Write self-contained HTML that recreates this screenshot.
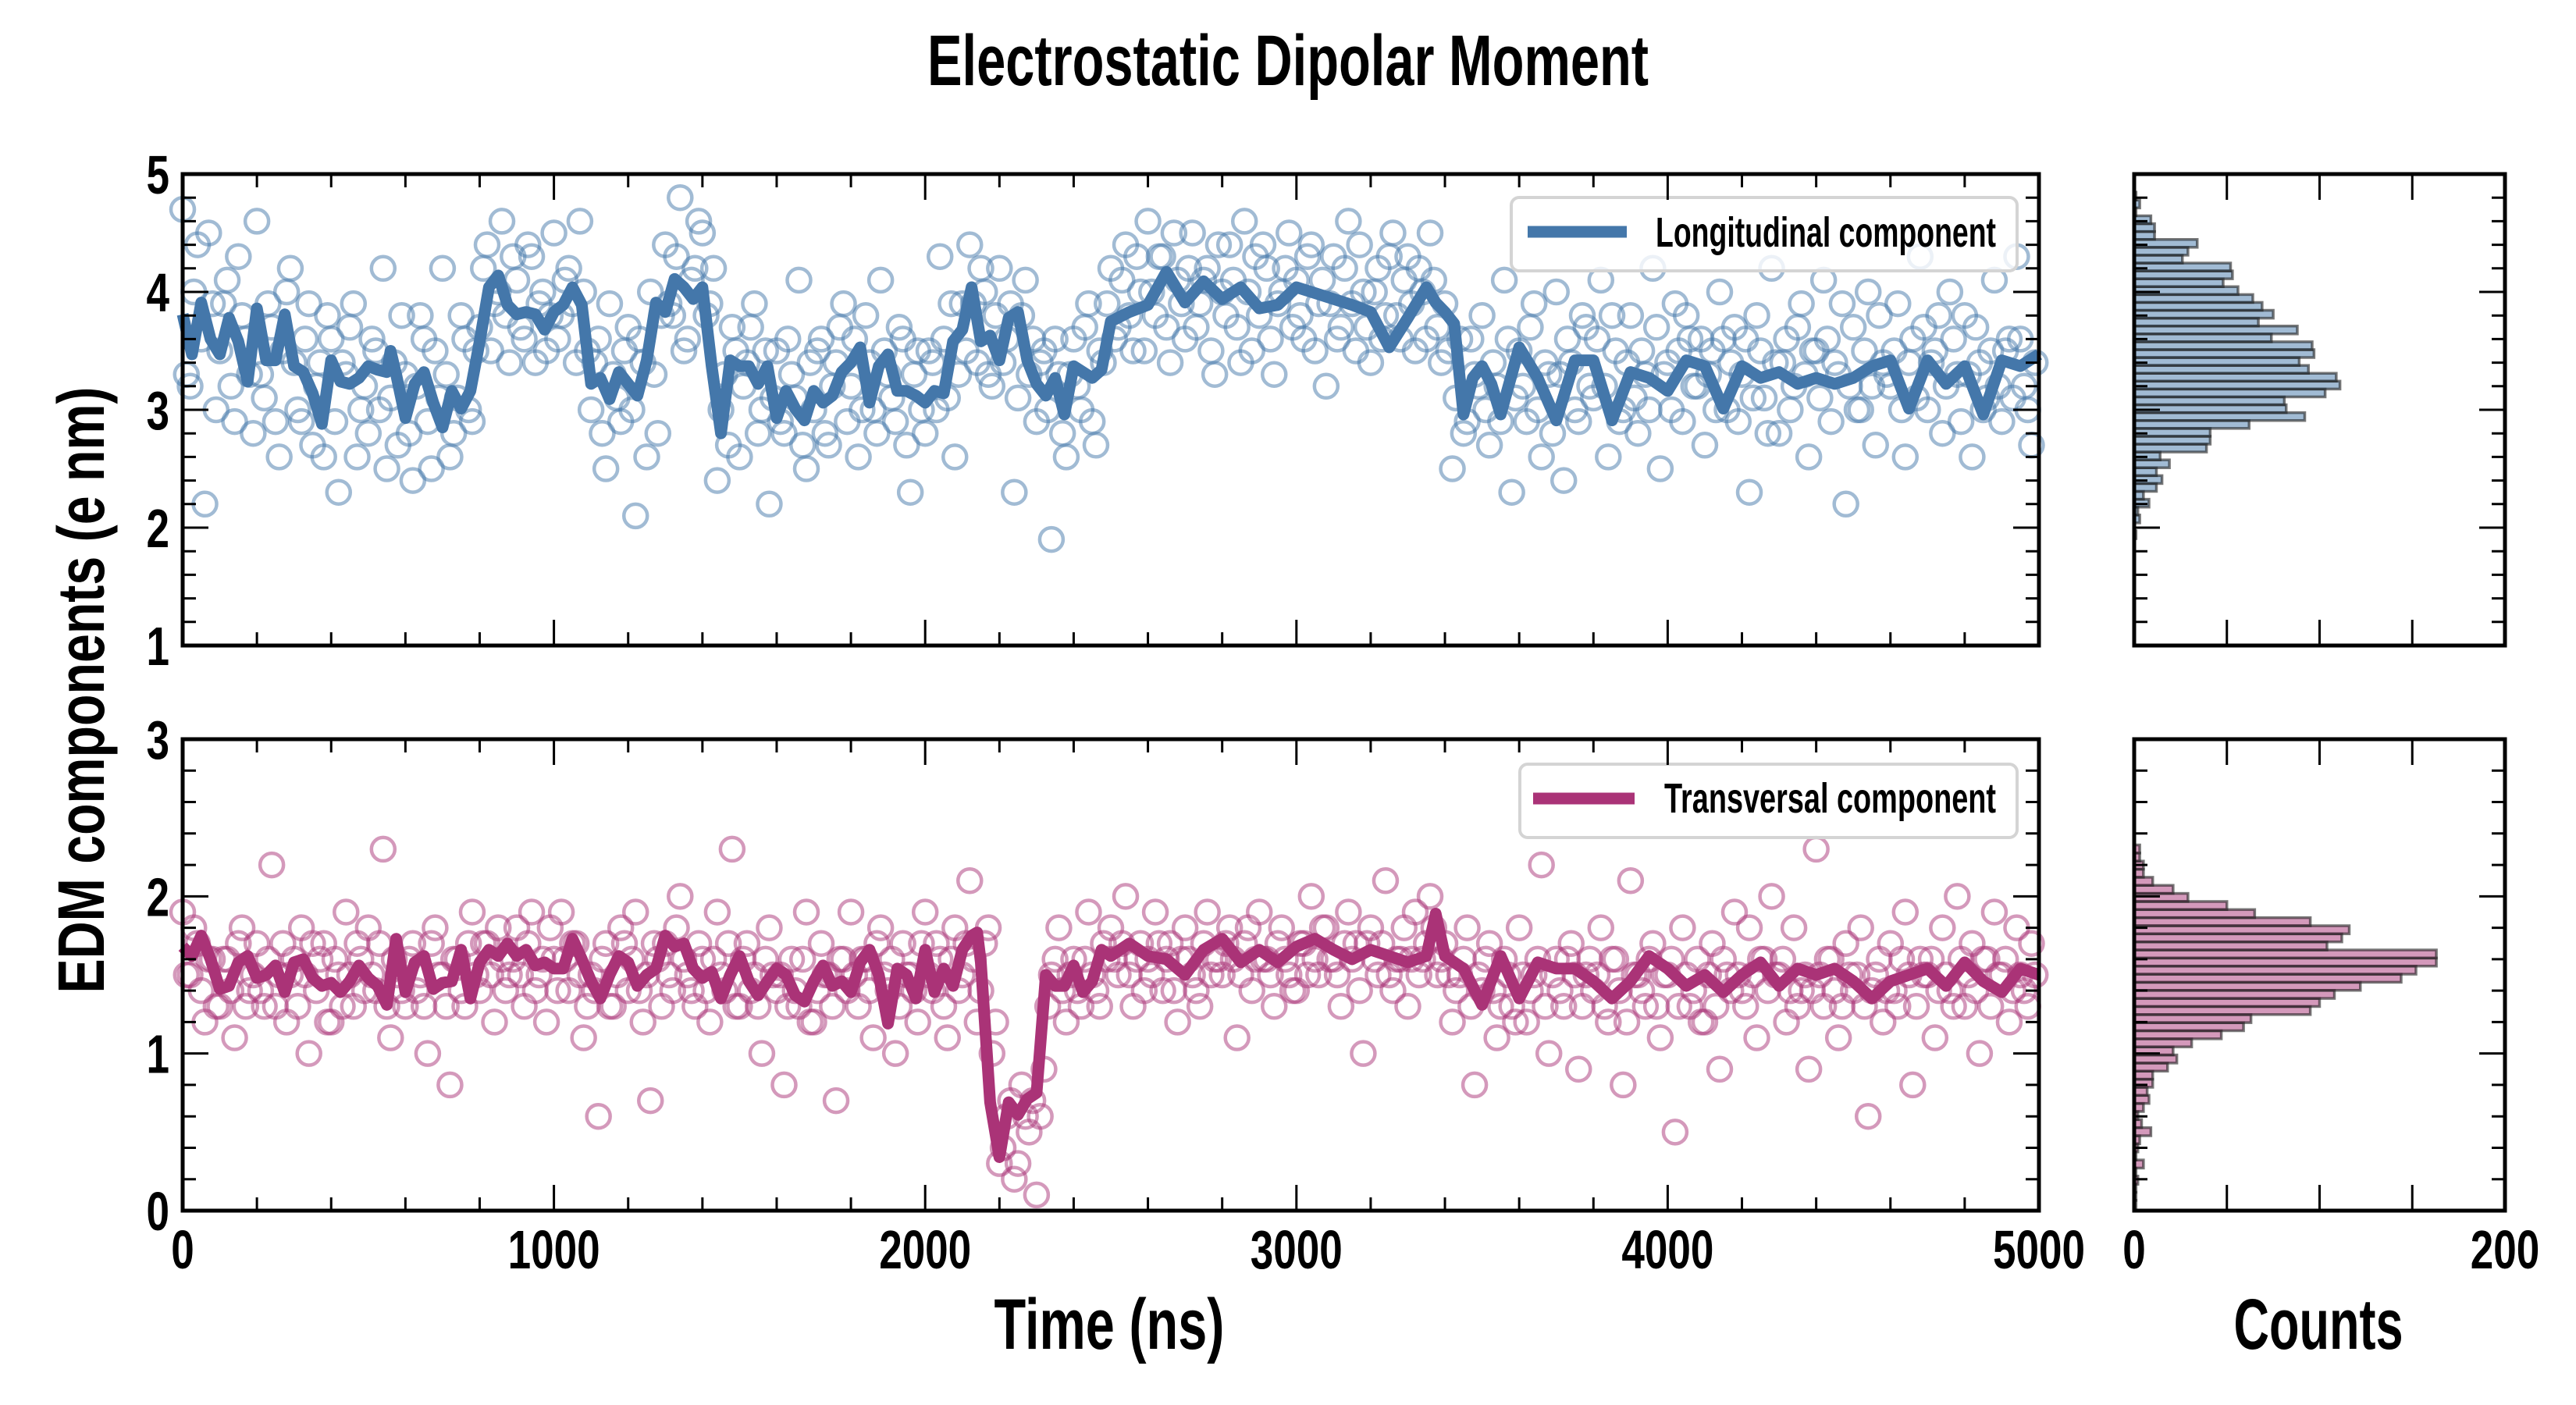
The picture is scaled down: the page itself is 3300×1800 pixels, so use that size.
<!DOCTYPE html>
<html><head><meta charset="utf-8"><style>
html,body{margin:0;padding:0;background:#fff;}
svg{display:block;font-family:"Liberation Sans Narrow","Liberation Sans",sans-serif;font-weight:bold;}
</style></head><body>
<svg id="chart" width="3300" height="1800" viewBox="0 0 3300 1800" xmlns="http://www.w3.org/2000/svg">
<text x="1650" y="109" font-size="92" text-anchor="middle" textLength="924" lengthAdjust="spacingAndGlyphs">Electrostatic Dipolar Moment</text>
<text x="1421" y="1728" font-size="92" text-anchor="middle" textLength="295" lengthAdjust="spacingAndGlyphs">Time (ns)</text>
<text x="2970" y="1728" font-size="92" text-anchor="middle" textLength="217" lengthAdjust="spacingAndGlyphs">Counts</text>
<text transform="translate(133,884) rotate(-90)" x="0" y="0" font-size="84" text-anchor="middle" textLength="777" lengthAdjust="spacingAndGlyphs">EDM components (e nm)</text>
<g id="layer"></g>
</svg>
<script>
const tickYTop = [1,2,3,4,5];
const tickYBot = [0,1,2,3];
const tickX = [0,1000,2000,3000,4000,5000];
const tickH = [0,200];

const longLineT = [0,25,50,75,100,125,150,175,200,225,250,275,300,325,350,375,400,425,450,475,500,525,550,560,575,600,625,650,675,700,725,750,775,800,825,850,875,900,925,950,975,1000,1025,1050,1075,1100,1125,1150,1175,1200,1225,1250,1275,1300,1325,1350,1375,1400,1425,1450,1475,1500,1525,1550,1575,1600,1625,1650,1675,1700,1725,1750,1775,1800,1825,1850,1875,1900,1925,1950,1975,2000,2025,2050,2075,2100,2125,2150,2175,2200,2225,2250,2275,2300,2325,2350,2375,2400,2425,2450,2475,2500,2550,2600,2650,2700,2750,2800,2850,2900,2950,3000,3050,3100,3150,3200,3250,3300,3350,3375,3400,3425,3450,3475,3500,3525,3550,3600,3650,3700,3750,3800,3850,3900,3950,4000,4050,4100,4150,4200,4250,4300,4350,4400,4450,4500,4550,4600,4650,4700,4750,4800,4850,4900,4950,5000];
const longLineV = [3.81,3.47,3.91,3.60,3.47,3.78,3.58,3.24,3.86,3.42,3.42,3.81,3.37,3.32,3.14,2.88,3.42,3.24,3.22,3.27,3.37,3.34,3.32,3.50,3.30,2.93,3.22,3.32,3.06,2.85,3.16,3.01,3.16,3.58,4.04,4.14,3.89,3.81,3.83,3.81,3.68,3.83,3.89,4.04,3.89,3.22,3.27,3.09,3.32,3.22,3.12,3.42,3.91,3.83,4.11,4.04,3.94,4.04,3.37,2.80,3.42,3.37,3.37,3.22,3.37,2.93,3.16,3.01,2.91,3.16,3.06,3.12,3.32,3.40,3.53,3.06,3.37,3.47,3.16,3.16,3.12,3.06,3.16,3.14,3.58,3.68,4.04,3.58,3.63,3.42,3.78,3.83,3.42,3.22,3.12,3.27,2.96,3.37,3.32,3.27,3.34,3.75,3.83,3.89,4.17,3.91,4.09,3.94,4.04,3.86,3.89,4.04,3.99,3.94,3.89,3.83,3.53,3.78,4.04,3.91,3.83,3.73,2.96,3.27,3.37,3.22,2.96,3.53,3.27,2.91,3.42,3.42,2.91,3.32,3.27,3.16,3.42,3.37,3.01,3.37,3.27,3.32,3.22,3.27,3.22,3.27,3.37,3.42,3.01,3.42,3.22,3.37,2.96,3.42,3.37,3.47];

const transLineT = [0,25,50,75,100,125,150,175,200,225,250,275,300,325,350,375,400,425,450,475,500,525,550,575,600,625,650,675,700,725,750,775,800,825,850,875,900,925,950,975,1000,1025,1050,1075,1100,1125,1150,1175,1200,1225,1250,1275,1300,1325,1350,1375,1400,1425,1450,1475,1500,1525,1550,1575,1600,1625,1650,1675,1700,1725,1750,1775,1800,1825,1850,1875,1900,1925,1950,1975,2000,2025,2050,2075,2100,2125,2140,2150,2175,2200,2225,2250,2275,2300,2325,2350,2375,2400,2425,2450,2475,2500,2550,2600,2650,2700,2750,2800,2850,2900,2950,3000,3050,3100,3150,3200,3250,3300,3350,3375,3400,3450,3500,3550,3600,3650,3700,3750,3800,3850,3900,3950,4000,4050,4100,4150,4200,4250,4300,4350,4400,4450,4500,4550,4600,4650,4700,4750,4800,4850,4900,4950,5000];
const transLineV = [1.68,1.62,1.75,1.60,1.41,1.43,1.58,1.62,1.48,1.50,1.56,1.39,1.58,1.60,1.48,1.43,1.45,1.39,1.46,1.56,1.48,1.43,1.31,1.73,1.39,1.58,1.62,1.41,1.45,1.46,1.66,1.35,1.58,1.66,1.62,1.70,1.62,1.66,1.56,1.58,1.54,1.54,1.73,1.60,1.46,1.35,1.50,1.62,1.58,1.43,1.50,1.54,1.75,1.68,1.70,1.54,1.48,1.52,1.35,1.50,1.62,1.46,1.37,1.46,1.54,1.50,1.37,1.33,1.46,1.56,1.43,1.46,1.39,1.58,1.66,1.50,1.19,1.54,1.50,1.35,1.66,1.39,1.54,1.43,1.66,1.75,1.77,1.58,0.69,0.34,0.69,0.61,0.71,0.75,1.50,1.43,1.43,1.56,1.39,1.46,1.66,1.62,1.70,1.62,1.60,1.50,1.66,1.73,1.58,1.66,1.58,1.68,1.73,1.66,1.60,1.66,1.62,1.58,1.62,1.89,1.62,1.54,1.31,1.62,1.35,1.58,1.54,1.54,1.46,1.35,1.46,1.62,1.54,1.43,1.50,1.39,1.50,1.58,1.43,1.54,1.50,1.54,1.46,1.35,1.46,1.50,1.54,1.43,1.58,1.46,1.39,1.54,1.50];

const scatterStep = 20;
const longScatter = [4.7,3.2,4.4,2.2,3.9, 3.5,4.1,2.9,3.8,3.3, 4.6,3.1,3.7,2.6,4.0, 3.4,2.9,3.9,3.2,2.6, 3.6,2.3,3.3,3.9,3.0,
2.8,3.5,4.2,3.1,2.7, 3.3,2.4,3.8,2.9,3.5, 4.2,2.6,3.1,3.6,2.9, 3.7,4.4,3.9,4.6,3.4, 4.1,3.6,4.3,3.9,3.5,
4.5,3.8,4.2,3.4,4.0, 3.0,3.6,2.5,3.3,2.9, 3.7,2.1,3.4,4.0,2.8, 4.4,3.8,4.8,3.6,4.2, 4.5,3.9,2.4,3.3,3.7,
2.6,3.4,3.9,3.0,2.2, 3.5,2.8,3.3,4.1,2.5, 3.0,3.6,2.7,3.4,3.9, 3.2,2.6,3.8,3.0,4.1, 3.3,2.9,3.6,2.3,3.5,
2.8,3.4,4.3,3.1,2.6, 3.9,4.4,3.4,4.0,3.2, 4.2,3.6,2.3,3.8,3.3, 2.9,3.5,1.9,3.3,2.6, 3.6,3.0,3.9,2.7,3.4,
4.2,3.7,4.4,3.5,4.0, 4.6,3.8,4.3,3.4,4.1, 3.6,4.5,3.9,4.2,3.3, 4.0,4.4,3.7,4.6,3.5, 3.8,4.2,3.3,4.0,4.5,
4.1,3.6,4.4,3.9,3.2, 4.3,3.7,4.6,3.5,4.0, 3.4,4.2,3.8,4.5,3.6, 4.3,3.5,4.0,4.5,3.7, 3.9,2.5,3.6,2.9,3.3,
3.8,2.7,3.2,4.1,2.3, 3.5,2.9,3.9,2.6,3.3, 4.0,2.4,3.4,2.9,3.7, 3.1,4.1,2.6,3.5,3.0, 3.8,2.8,3.3,4.2,2.5,
3.4,3.9,2.9,3.6,3.2, 2.7,3.5,4.0,3.0,3.7, 3.3,2.3,3.8,3.1,4.2, 2.8,3.6,3.2,3.9,2.6, 3.5,4.1,2.9,3.3,2.2,
3.7,3.0,4.0,2.7,3.4, 3.2,3.9,2.6,3.6,4.3, 3.0,3.5,2.8,4.0,3.3, 3.8,2.6,3.4,3.1,4.1, 2.9,3.6,4.3,3.2,2.7];
const longScatterB = [3.3,4.0,3.6,4.5,3.0, 3.9,3.2,4.3,3.6,2.8, 3.3,3.9,2.9,3.5,4.2, 3.0,3.6,2.7,3.4,3.8, 2.9,3.4,3.7,2.6,3.2,
3.6,3.0,2.5,3.4,3.8, 2.8,3.2,3.6,2.5,3.1, 3.3,2.8,3.8,3.0,3.5, 4.2,3.5,4.0,3.8,4.3, 3.7,4.4,3.4,4.0,3.8,
3.6,4.1,3.9,4.6,3.5, 3.4,2.8,3.9,3.1,3.5, 3.0,3.6,2.6,3.3,3.8, 3.9,4.3,3.5,4.1,4.6, 3.8,4.2,3.0,2.7,3.5,
3.2,3.7,2.8,3.5,3.1, 2.9,3.6,3.1,2.7,3.4, 3.5,2.8,3.2,3.7,2.9, 3.6,3.0,3.4,2.8,3.5, 3.1,3.7,2.7,3.3,3.0,
3.5,3.0,3.6,3.9,3.3, 3.5,3.9,4.2,3.3,3.8, 3.4,3.9,3.1,4.1,3.6, 3.4,3.0,3.6,2.8,3.3, 3.2,3.7,2.9,3.5,3.9,
3.6,4.1,3.8,4.3,3.5, 4.0,4.3,3.7,4.5,3.9, 4.2,3.7,4.1,3.5,4.4, 3.8,4.1,3.4,4.0,4.3, 4.4,3.6,3.9,4.2,3.7,
3.8,4.3,3.5,4.1,3.9, 3.6,4.2,3.9,4.4,3.7, 4.0,3.6,4.3,3.8,4.1, 3.9,4.2,3.6,4.1,3.4, 3.5,3.1,2.8,3.6,3.2,
3.0,3.4,2.9,3.6,3.1, 3.2,3.7,3.0,3.4,2.8, 3.3,3.6,3.0,3.8,3.2, 3.6,3.2,3.8,2.9,3.4, 3.1,3.5,3.0,3.7,3.3,
3.0,3.5,3.8,3.2,3.6, 3.3,3.0,3.6,3.4,2.9, 3.6,3.1,3.5,2.8,3.4, 3.4,3.0,3.7,3.3,3.5, 3.1,3.6,3.4,3.9,3.2,
3.0,3.5,3.2,3.8,3.3, 3.5,3.0,3.4,3.1,3.7, 3.4,3.8,3.2,3.6,2.9, 3.3,3.7,3.0,3.5,3.2, 3.5,3.1,3.6,3.0,3.4];
const transScatter = [1.9,1.5,1.7,1.2,1.6, 1.3,1.6,1.1,1.8,1.4, 1.7,1.3,2.2,1.5,1.2, 1.6,1.8,1.0,1.4,1.7, 1.2,1.5,1.9,1.3,1.6,
1.8,1.4,2.3,1.1,1.5, 1.3,1.7,1.5,1.0,1.8, 1.5,0.8,1.6,1.3,1.9, 1.4,1.7,1.2,1.6,1.5, 1.8,1.3,1.9,1.5,1.2,
1.6,1.9,1.4,1.7,1.1, 1.5,0.6,1.7,1.3,1.8, 1.4,1.9,1.2,0.7,1.6, 1.7,1.4,2.0,1.5,1.3, 1.6,1.2,1.9,1.4,2.3,
1.3,1.7,1.5,1.0,1.8, 1.4,0.8,1.6,1.3,1.9, 1.2,1.7,1.5,0.7,1.6, 1.9,1.3,1.6,1.1,1.8, 1.4,1.0,1.7,1.5,1.2,
1.9,1.4,1.6,1.1,1.8, 1.5,2.1,1.2,1.7,1.0, 0.3,0.6,0.2,0.8,0.5, 0.1,0.9,1.5,1.8,1.2, 1.6,1.3,1.9,1.4,1.7,
1.8,1.5,2.0,1.3,1.7, 1.6,1.9,1.4,1.7,1.2, 1.8,1.5,1.3,1.9,1.6, 1.5,1.8,1.1,1.7,1.4, 1.9,1.6,1.3,1.8,1.5,
1.4,1.7,2.0,1.5,1.8, 1.6,1.3,1.9,1.7,1.0, 1.8,1.5,2.1,1.4,1.6, 1.3,1.9,1.6,2.0,1.5, 1.7,1.2,1.5,1.8,0.8,
1.4,1.7,1.1,1.6,1.3, 1.8,1.2,1.5,2.2,1.0, 1.6,1.3,1.7,0.9,1.5, 1.4,1.8,1.2,1.6,0.8, 2.1,1.5,1.3,1.7,1.1,
1.5,0.5,1.8,1.3,1.6, 1.2,1.7,0.9,1.5,1.9, 1.4,1.8,1.1,1.6,2.0, 1.5,1.2,1.8,1.4,0.9, 2.3,1.3,1.6,1.1,1.7,
1.4,1.8,0.6,1.5,1.2, 1.7,1.3,1.9,0.8,1.6, 1.5,1.1,1.8,1.4,2.0, 1.3,1.7,1.0,1.6,1.9, 1.5,1.2,1.8,1.4,1.7];
const transScatterB = [1.5,1.8,1.4,1.6,1.3, 1.6,1.4,1.7,1.3,1.5, 1.4,1.6,1.3,1.7,1.5, 1.3,1.5,1.7,1.6,1.2, 1.6,1.3,1.5,1.7,1.4,
1.5,1.7,1.3,1.6,1.4, 1.6,1.4,1.3,1.7,1.5, 1.3,1.6,1.4,1.7,1.5, 1.7,1.5,1.8,1.4,1.6, 1.5,1.7,1.4,1.6,1.8,
1.4,1.6,1.7,1.5,1.3, 1.4,1.6,1.3,1.5,1.7, 1.6,1.4,1.5,1.7,1.3, 1.5,1.8,1.6,1.4,1.7, 1.4,1.6,1.5,1.7,1.3,
1.6,1.4,1.3,1.6,1.5, 1.5,1.3,1.4,1.6,1.2, 1.4,1.5,1.3,1.6,1.4, 1.5,1.6,1.4,1.7,1.5, 1.6,1.3,1.5,1.4,1.7,
1.5,1.7,1.3,1.6,1.4, 1.7,1.6,1.4,1.8,1.2, 0.4,0.7,0.3,0.6,0.7, 0.6,1.3,1.6,1.4,1.5, 1.4,1.6,1.5,1.3,1.6,
1.6,1.7,1.5,1.6,1.4, 1.5,1.7,1.6,1.4,1.6, 1.6,1.4,1.7,1.5,1.6, 1.7,1.6,1.5,1.8,1.6, 1.6,1.5,1.7,1.6,1.4,
1.7,1.5,1.6,1.8,1.6, 1.5,1.7,1.6,1.4,1.7, 1.6,1.7,1.5,1.6,1.8, 1.6,1.5,1.7,1.8,1.6, 1.5,1.4,1.6,1.3,1.5,
1.6,1.4,1.3,1.5,1.2, 1.5,1.4,1.6,1.3,1.5, 1.4,1.6,1.5,1.3,1.6, 1.5,1.3,1.6,1.4,1.2, 1.5,1.4,1.6,1.3,1.5,
1.6,1.3,1.5,1.4,1.2, 1.5,1.3,1.6,1.4,1.5, 1.3,1.5,1.6,1.4,1.5, 1.6,1.4,1.3,1.5,1.4, 1.5,1.6,1.4,1.3,1.5,
1.5,1.3,1.4,1.6,1.4, 1.4,1.6,1.5,1.3,1.5, 1.6,1.4,1.5,1.3,1.6, 1.5,1.4,1.6,1.3,1.5, 1.6,1.4,1.5,1.3,1.5];

const longHistStart = 1.907;
const longHistWidth = 0.0668;
const longHistCounts = [1,0,3,2,8,5,12,15,12,19,14,39,41,41,62,92,82,81,103,111,109,94,89,97,96,74,88,67,75,69,64,56,48,53,52,26,29,34,11,11,9,1,3,1];
const transHistStart = 0.014;
const transHistWidth = 0.0514;
const transHistCounts = [1,1,1,2,1,5,1,2,3,9,4,2,5,8,7,10,10,18,23,21,31,47,59,63,95,100,108,122,144,152,163,163,104,112,116,95,65,50,29,21,10,5,5,3,3];

const NS = 'http://www.w3.org/2000/svg';
const layer = document.getElementById('layer');
const L = 234, R = 2612, HL = 2734, HR = 3209;
const TT = 223, TB = 827, BT = 947, BB = 1551;
const X = t => L + t / 5000 * (R - L);
const YT = v => TB - (v - 1) / 4 * (TB - TT);
const YB = v => BB - v / 3 * (BB - BT);
const H = c => HL + c / 200 * (HR - HL);

function mk(tag, attrs, parent) {
  const e = document.createElementNS(NS, tag);
  for (const k in attrs) e.setAttribute(k, attrs[k]);
  (parent || layer).appendChild(e);
  return e;
}

function scatter(vals, offset, yf, color, name) {
  const g = mk('g', {});
  
  
  vals.forEach((v, i) => {
    const c = mk('circle', {cx: X(offset + i * scatterStep), cy: yf(v), r: 15, fill: 'none', stroke: color, 'stroke-width': 4.5, 'stroke-opacity': 0.5}, g);
    
    
  });
}
function line(ts, vs, yf, color, name) {
  const d = ts.map((t, i) => (i ? 'L' : 'M') + X(t).toFixed(1) + ',' + yf(vs[i]).toFixed(1)).join('');
  const p = mk('path', {d: d, fill: 'none', stroke: color, 'stroke-width': 15, 'stroke-linejoin': 'round'});
  
  
}
function hist(counts, start, width, yf, fill, name) {
  const g = mk('g', {});
  
  
  counts.forEach((c, i) => {
    const y0 = yf(start + (i + 1) * width), y1 = yf(start + i * width);
    const r = mk('rect', {x: HL, y: y0, width: H(c) - HL, height: y1 - y0, fill: fill, stroke: 'rgba(30,30,30,0.6)', 'stroke-width': 3.5}, g);
    
    
  });
}
function tick(x1, y1, x2, y2) {
  mk('line', {x1: x1, y1: y1, x2: x2, y2: y2, stroke: '#000', 'stroke-width': 3});
}
function frame(x0, y0, x1, y1, name) {
  const r = mk('rect', {x: x0, y: y0, width: x1 - x0, height: y1 - y0, fill: 'none', stroke: '#000', 'stroke-width': 5});
  
  
}
function yTicks(x0, x1, vmin, vmax, yf) {
  for (let k = Math.round(vmin * 5); k <= Math.round(vmax * 5); k++) {
    const v = k / 5, y = yf(v), len = (k % 5 === 0) ? 33 : 17;
    tick(x0, y, x0 + len, y); tick(x1, y, x1 - len, y);
  }
}
function xTicks(y0, y1) {
  for (let t = 0; t <= 5000; t += 200) {
    const x = X(t), len = (t % 1000 === 0) ? 33 : 17;
    tick(x, y1, x, y1 - len); tick(x, y0, x, y0 + len);
  }
}
function label(txt, x, y, anchor, name) {
  const e = mk('text', {x: x, y: y, 'font-size': 70, 'text-anchor': anchor, textLength: txt.length * 29.5, lengthAdjust: 'spacingAndGlyphs'});
  e.textContent = txt;
  
  
}
function legend(x, y, w, h, lx1, lx2, ly, tx, ty, tl, txt, color, name) {
  const g = mk('g', {});
  
  
  mk('rect', {x: x, y: y, width: w, height: h, rx: 10, fill: 'rgba(255,255,255,0.8)', stroke: '#d4d4d4', 'stroke-width': 4}, g);
  mk('line', {x1: lx1, y1: ly, x2: lx2, y2: ly, stroke: color, 'stroke-width': 15}, g);
  const t = mk('text', {x: tx, y: ty, 'font-size': 54, textLength: tl, lengthAdjust: 'spacingAndGlyphs'}, g);
  t.textContent = txt;
}

// top panel
scatter(longScatter, 0, YT, '#4477aa', 'longitudinal-scatter');
scatter(longScatterB, 10, YT, '#4477aa', 'longitudinal-scatter-b');
line(longLineT, longLineV, YT, '#4477aa', 'longitudinal-line');
legend(1936, 253, 648, 94, 1957, 2084, 297, 2121, 316, 436, 'Longitudinal component', '#4477aa', 'legend-longitudinal');
xTicks(TT, TB); yTicks(L, R, 1, 5, YT);
frame(L, TT, R, TB, 'top-axes-frame');
tickYTop.forEach(v => label(String(v), 217, YT(v) + 25, 'end', 'y-tick-label'));

// bottom panel
scatter(transScatter, 0, YB, '#aa3377', 'transversal-scatter');
scatter(transScatterB, 10, YB, '#aa3377', 'transversal-scatter-b');
line(transLineT, transLineV, YB, '#aa3377', 'transversal-line');
legend(1947, 979, 637, 94, 1964, 2094, 1023, 2132, 1041, 425, 'Transversal component', '#aa3377', 'legend-transversal');
xTicks(BT, BB); yTicks(L, R, 0, 3, YB);
frame(L, BT, R, BB, 'bottom-axes-frame');
tickYBot.forEach(v => label(String(v), 217, YB(v) + 25, 'end', 'y-tick-label'));
tickX.forEach(t => label(String(t), X(t), 1625, 'middle', 'x-tick-label'));

// histograms
hist(longHistCounts, longHistStart, longHistWidth, YT, 'rgba(68,119,170,0.5)', 'longitudinal-histogram');
hist(transHistCounts, transHistStart, transHistWidth, YB, 'rgba(170,51,119,0.5)', 'transversal-histogram');
[[TT, TB, 1, 5, YT], [BT, BB, 0, 3, YB]].forEach(p => {
  yTicks(HL, HR, p[2], p[3], p[4]);
  for (let c = 50; c < 200; c += 50) { tick(H(c), p[0], H(c), p[0] + 33); tick(H(c), p[1], H(c), p[1] - 33); }
  frame(HL, p[0], HR, p[1], 'histogram-frame');
});
tickH.forEach(c => label(String(c), H(c), 1625, 'middle', 'hist-x-tick-label'));
</script>
</body></html>
